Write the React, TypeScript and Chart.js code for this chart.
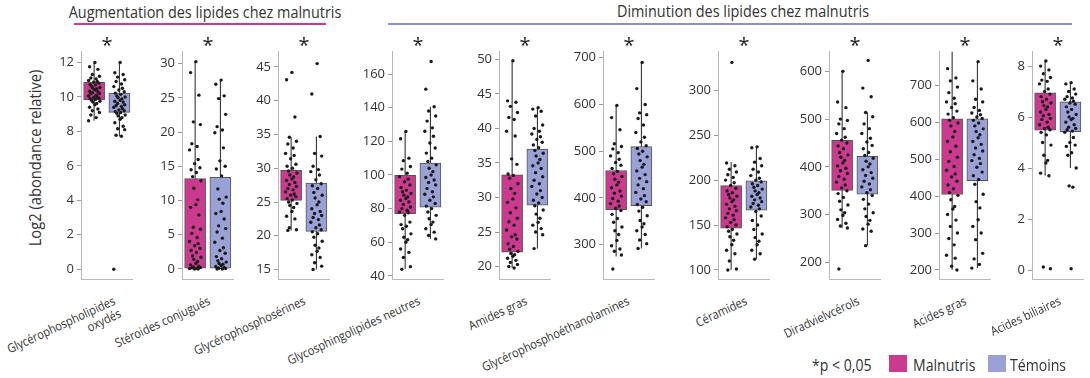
import React, { useEffect, useRef } from 'react';
import { Chart, registerables } from 'chart.js';
Chart.register(...registerables);

// ---------- DATA ----------
const CATEGORIES = [
  'Glycérophospholipides\noxydés',
  'Stéroides conjugués',
  'Glycérophosphosérines',
  'Glycosphingolipides neutres',
  'Amides gras',
  'Glycérophosphoéthanolamines',
  'Céramides',
  'Diradvielvcérols',
  'Acides gras',
  'Acides biliaires',
];
const SERIES = ['Malnutris', 'Témoins'];
const GROUP_TITLES = ['Augmentation des lipides chez malnutris', 'Diminution des lipides chez malnutris'];
const Y_TITLE = 'Log2 (abondance relative)';
const SIGNIF = ['*', '*', '*', '*', '*', '*', '*', '*', '*', '*'];
const SIGNIF_NOTE = '*p < 0,05';

const Y_MIN = [-0.58, -1.5, 13.57, 38.05, 18.17, 226.3, 89.7, 164.7, 175, -0.36];
const Y_MAX = [12.62, 31.74, 47.25, 173.2, 51.1, 712.7, 342.8, 641, 790.6, 8.56];
const Y_TICKS = [
  [0, 2, 4, 6, 8, 10, 12],
  [0, 5, 10, 15, 20, 25, 30],
  [15, 20, 25, 30, 35, 40, 45],
  [40, 60, 80, 100, 120, 140, 160],
  [20, 25, 30, 35, 40, 45, 50],
  [300, 400, 500, 600, 700],
  [100, 150, 200, 250, 300],
  [200, 300, 400, 500, 600],
  [200, 300, 400, 500, 600, 700],
  [0, 2, 4, 6, 8],
];

// box (Q1..Q3) and whisker ends
const MAL_Q1 = [9.83, 0.1, 25.24, 77, 22.1, 375.2, 146.6, 350.7, 404.3, 5.49];
const MAL_Q3 = [10.85, 13.2, 29.7, 99.8, 33.3, 458.8, 193.8, 455.5, 609, 6.95];
const TEM_Q1 = [9.1, 0.1, 20.63, 80.9, 28.9, 383.6, 166.5, 343, 442, 5.43];
const TEM_Q3 = [10.23, 13.4, 27.8, 107.1, 37.0, 509.8, 199.3, 422, 609, 6.6];
const MAL_LOW = [8.62, 0, 20.8, 44, 19.8, 275, 100, 272, 200, 3.7];
const MAL_HIGH = [12.0, 30.3, 34.6, 125.8, 49.8, 598, 220, 600, 800, 8.2];
const TEM_LOW = [7.72, 0, 15.0, 62, 22.6, 292, 112, 235, 205, 4.0];
const TEM_HIGH = [12.0, 27.6, 34.7, 140.5, 43.0, 690, 237, 514, 764, 7.35];

// individual points
const MAL_POINTS = [
  [12.0, 11.75, 11.6, 11.3, 11.2, 11.1, 11.05, 10.95, 10.9, 10.86, 10.8, 10.72, 10.7, 10.62, 10.55, 10.5, 10.46, 10.4, 10.33, 10.3, 10.25, 10.2, 10.18, 10.1, 10.05, 10.0, 9.97, 9.92, 9.9, 9.85, 9.8, 9.75, 9.7, 9.62, 9.55, 9.4, 9.3, 9.2, 9.1, 8.95, 8.8, 8.62],
  [30.3, 28.7, 25.4, 21.5, 21.1, 18.3, 17.9, 17.4, 16.0, 15.4, 14.8, 14.5, 14.1, 13.5, 12.9, 11.8, 10.1, 9.4, 9.0, 7.9, 6.1, 5.8, 5.2, 4.6, 4.0, 3.7, 3.4, 3.0, 2.7, 2.4, 1.9, 1.7, 1.4, 1.1, 0.8, 0.6, 0.4, 0.3, 0.2, 0.15, 0.1, 0.05, 0.0, 0.0],
  [44.2, 43.1, 37.6, 34.6, 34.0, 33.6, 33.0, 32.2, 31.9, 31.4, 30.6, 30.3, 30.0, 29.6, 29.3, 29.0, 28.7, 28.4, 28.2, 27.9, 27.6, 27.3, 27.0, 26.8, 26.5, 26.2, 26.0, 25.8, 25.5, 25.3, 25.0, 24.8, 24.5, 24.2, 23.6, 22.9, 22.5, 21.2, 20.9, 20.8],
  [125.8, 121.5, 110, 108.5, 105, 103.5, 101, 99, 97.5, 96, 94, 92.5, 91, 90, 89, 88, 87, 86, 85, 84, 82.5, 81, 80, 79, 78, 77.5, 76, 72, 70.5, 69.5, 68, 65, 63, 61.5, 60, 56, 54, 51, 45.5, 44],
  [49.8, 44.0, 43.8, 43.2, 42.3, 41.6, 41.3, 39.6, 38.9, 35.6, 34.8, 33.4, 33.2, 32.8, 32.0, 31.3, 30.6, 29.8, 29.3, 28.5, 27.8, 27.0, 26.5, 26.0, 25.3, 24.6, 24.3, 24.0, 23.3, 22.9, 22.5, 22.2, 21.9, 21.7, 21.5, 21.2, 20.9, 20.6, 20.3, 20.0, 19.8],
  [598, 572, 546, 516, 510, 505, 497, 490, 483, 476, 470, 463, 457, 452, 446, 440, 434, 428, 422, 415, 410, 404, 399, 393, 388, 383, 378, 373, 365, 356, 348, 338, 330, 322, 309, 298, 291, 286, 278, 248],
  [331, 219, 216, 212, 209, 206, 203, 200, 197, 194, 191, 188, 186, 184, 182, 180, 178, 176, 173, 171, 168, 166, 163, 161, 158, 156, 153, 150, 148, 145, 143, 140, 137, 133, 128, 122, 118, 110, 101, 100],
  [600, 536, 524, 500, 497, 490, 480, 470, 462, 456, 450, 444, 438, 430, 425, 420, 414, 408, 402, 397, 392, 386, 380, 374, 368, 362, 356, 350, 344, 336, 328, 320, 310, 304, 298, 290, 282, 276, 272, 186],
  [800, 745, 720, 712, 695, 680, 665, 655, 650, 640, 630, 622, 612, 605, 598, 590, 575, 560, 548, 535, 520, 505, 494, 480, 470, 460, 452, 440, 430, 420, 410, 402, 390, 372, 365, 350, 335, 318, 300, 285, 268, 240, 232, 210, 200],
  [8.2, 8.0, 7.85, 7.7, 7.55, 7.45, 7.4, 7.3, 7.1, 7.0, 6.9, 6.8, 6.7, 6.6, 6.55, 6.45, 6.4, 6.3, 6.2, 6.1, 6.05, 5.95, 5.9, 5.8, 5.7, 5.6, 5.55, 5.5, 5.4, 5.3, 5.0, 4.9, 4.5, 4.3, 4.2, 3.8, 3.7, 0.12, 0.05],
];
const TEM_POINTS = [
  [12.0, 11.4, 11.3, 11.15, 11.0, 10.9, 10.75, 10.6, 10.5, 10.4, 10.3, 10.22, 10.15, 10.05, 10.0, 9.95, 9.88, 9.8, 9.75, 9.7, 9.62, 9.55, 9.5, 9.45, 9.4, 9.32, 9.25, 9.2, 9.15, 9.1, 9.05, 8.95, 8.9, 8.8, 8.7, 8.5, 8.3, 8.15, 8.1, 7.78, 7.72, 0.0],
  [27.6, 27.0, 25.3, 24.9, 22.6, 20.8, 20.3, 19.9, 17.7, 15.8, 15.0, 14.6, 13.6, 11.7, 10.5, 10.2, 9.6, 8.4, 8.1, 7.3, 6.3, 5.9, 5.4, 4.5, 3.9, 3.1, 2.7, 2.3, 1.8, 1.5, 1.2, 1.0, 0.8, 0.7, 0.5, 0.35, 0.2, 0.1, 0.05, 0.0, 0.0],
  [45.5, 41.0, 34.7, 32.2, 31.8, 30.3, 29.8, 29.5, 29.0, 28.3, 27.7, 27.4, 27.0, 26.4, 26.0, 25.6, 25.0, 24.6, 24.0, 23.6, 23.3, 23.0, 22.7, 22.4, 22.0, 21.6, 21.2, 20.9, 20.6, 20.3, 19.8, 19.2, 18.6, 18.2, 17.7, 17.2, 16.8, 16.0, 15.5, 15.0],
  [167.4, 151, 140.5, 138, 135, 132, 128, 126, 123, 119, 116, 113, 110, 108, 106, 104, 102, 100, 98.5, 97, 95.5, 94, 92, 90, 88.5, 87, 85, 83, 81.5, 80, 78, 76, 74, 72, 70.5, 68, 66, 64, 62],
  [43.0, 42.8, 42.5, 41.8, 40.5, 40.0, 39.6, 39.2, 38.8, 38.4, 38.0, 37.6, 37.2, 36.8, 36.4, 36.0, 35.5, 35.0, 34.6, 34.2, 33.6, 33.0, 32.5, 32.0, 31.6, 31.0, 30.5, 30.0, 29.6, 29.2, 28.8, 28.2, 27.6, 27.0, 26.4, 26.0, 25.5, 25.0, 24.6, 22.6],
  [690, 634, 600, 582, 578, 570, 556, 540, 530, 520, 512, 506, 500, 494, 488, 480, 472, 466, 458, 450, 442, 435, 428, 420, 412, 405, 398, 392, 386, 380, 372, 362, 352, 345, 338, 330, 322, 310, 302, 292],
  [237, 236, 224, 220, 216, 212, 209, 205, 202, 200, 198, 196, 194, 192, 190, 188, 186, 184, 182, 180, 178, 176, 174, 172, 170, 168, 165, 160, 155, 150, 145, 140, 136, 132, 128, 122, 118, 112],
  [623, 565, 547, 514, 505, 490, 480, 470, 460, 452, 445, 438, 430, 424, 418, 412, 406, 400, 394, 388, 382, 376, 370, 364, 358, 352, 346, 340, 332, 322, 312, 304, 296, 288, 280, 270, 265, 235],
  [764, 712, 690, 662, 655, 640, 632, 625, 620, 614, 610, 605, 598, 590, 582, 575, 566, 558, 548, 540, 530, 522, 512, 502, 496, 488, 478, 465, 455, 445, 432, 405, 385, 368, 336, 318, 300, 282, 245, 230, 215, 205],
  [7.35, 7.3, 7.1, 7.0, 6.9, 6.8, 6.75, 6.7, 6.62, 6.55, 6.5, 6.4, 6.3, 6.2, 6.1, 6.0, 5.95, 5.9, 5.8, 5.7, 5.6, 5.55, 5.5, 5.45, 5.4, 5.2, 5.0, 4.9, 4.85, 4.6, 4.5, 4.0, 3.3, 3.25, 0.05],
];

// ---------- LAYOUT / STYLE ----------
const FONT = "'Open Sans', 'Noto Sans', sans-serif";
const MAL_COLOR = '#cb3a8f';
const TEM_COLOR = '#9aa1d6';
const BOX_BORDER = '#555555';
const AXIS_COLOR = '#b8b8b8';
const TEXT_COLOR = '#333333';
const PANEL_AXIS_X = [81, 182, 278, 392, 499, 603, 718, 829, 939, 1032];
const LABEL_DX = [5, -2, -2, -2, -2, -3, -1, 0, -2, -1];
const PLOT_W = 51;
const AREA_TOP = 51;
const AREA_H = 229;
const Y_AXIS_W = 40;
const PAD = 10;
const X_MIN = -0.02;
const X_MAX = 2;
const X_MAL = 0.5;
const X_TEM = 1.5;
const JITTER = [0.03, -0.18, 0.15, -0.07, 0.21, -0.13, 0.08, -0.22, 0.12, -0.02, 0.19, -0.16, 0.05, -0.1, 0.23, -0.05, 0.1];
const SQUEEZE = 0.88;
const TITLE_SQUEEZE = 0.93;

function Panel({ i }: { i: number }) {
  const ref = useRef<HTMLCanvasElement>(null);
  useEffect(() => {
    const pts = (vals: number[], cx: number) =>
      vals.map((v, k) => ({ x: cx + JITTER[k % JITTER.length], y: v }));
    const chart = new Chart(ref.current as HTMLCanvasElement, {
      type: 'bar',
      data: {
        datasets: [
          { type: 'scatter', data: pts(MAL_POINTS[i], X_MAL), pointRadius: 1.7, pointBackgroundColor: '#1a1a1a', pointBorderWidth: 0, order: 0 } as any,
          { type: 'scatter', data: pts(TEM_POINTS[i], X_TEM), pointRadius: 1.7, pointBackgroundColor: '#1a1a1a', pointBorderWidth: 0, order: 0 } as any,
          { type: 'bar', label: SERIES[0], data: [{ x: X_MAL, y: [MAL_Q1[i], MAL_Q3[i]] }], backgroundColor: MAL_COLOR, borderColor: BOX_BORDER, borderWidth: 1, borderSkipped: false, barThickness: 21, grouped: false, order: 1 } as any,
          { type: 'bar', label: SERIES[1], data: [{ x: X_TEM, y: [TEM_Q1[i], TEM_Q3[i]] }], backgroundColor: TEM_COLOR, borderColor: BOX_BORDER, borderWidth: 1, borderSkipped: false, barThickness: 21, grouped: false, order: 1 } as any,
          { type: 'line', data: [{ x: X_MAL, y: MAL_LOW[i] }, { x: X_MAL, y: MAL_HIGH[i] }], borderColor: '#222', borderWidth: 1, pointRadius: 0, order: 2 } as any,
          { type: 'line', data: [{ x: X_TEM, y: TEM_LOW[i] }, { x: X_TEM, y: TEM_HIGH[i] }], borderColor: '#222', borderWidth: 1, pointRadius: 0, order: 2 } as any,
        ],
      },
      options: {
        animation: false,
        responsive: false,
        events: [],
        layout: { padding: { left: 0, right: 4, top: PAD, bottom: PAD } },
        plugins: { legend: { display: false }, tooltip: { enabled: false } },
        scales: {
          x: {
            type: 'linear',
            min: X_MIN,
            max: X_MAX,
            offset: false,
            grid: { display: false },
            ticks: { display: false },
            border: { display: true, color: AXIS_COLOR, width: 1 },
            afterFit: (s: any) => { s.height = 0; },
          },
          y: {
            type: 'linear',
            min: Y_MIN[i],
            max: Y_MAX[i],
            afterBuildTicks: (s: any) => { s.ticks = Y_TICKS[i].map((v) => ({ value: v })); },
            afterFit: (s: any) => { s.width = Y_AXIS_W; },
            grid: { display: true, drawOnChartArea: false, drawTicks: true, tickLength: 4, color: '#9a9a9a' },
            border: { display: true, color: AXIS_COLOR, width: 1 },
            ticks: { font: { family: FONT, size: 13 }, color: TEXT_COLOR, padding: 3 },
          },
        } as any,
      },
    });
    return () => chart.destroy();
  }, [i]);
  return (
    <canvas
      ref={ref}
      width={Y_AXIS_W + PLOT_W + 4}
      height={AREA_H + 2 * PAD}
      style={{ position: 'absolute', left: PANEL_AXIS_X[i] - Y_AXIS_W, top: AREA_TOP - PAD }}
    />
  );
}

const txt = (extra: React.CSSProperties): React.CSSProperties => ({
  position: 'absolute',
  whiteSpace: 'pre',
  color: TEXT_COLOR,
  fontFamily: FONT,
  ...extra,
});

export default function App() {
  return (
    <div style={{ position: 'absolute', left: 0, top: 0, width: 1090, height: 378, background: '#fff', overflow: 'hidden', fontFamily: FONT }}>
      {/* group titles */}
      <div style={txt({ left: 205, top: 4.5, fontSize: 15.5, lineHeight: '15.5px', transform: `translateX(-50%) scaleX(${TITLE_SQUEEZE})` })}>{GROUP_TITLES[0]}</div>
      <div style={{ position: 'absolute', left: 74, top: 23, width: 252, height: 2, background: MAL_COLOR }} />
      <div style={txt({ left: 743, top: 4, fontSize: 15.5, lineHeight: '15.5px', transform: `translateX(-50%) scaleX(${TITLE_SQUEEZE})` })}>{GROUP_TITLES[1]}</div>
      <div style={{ position: 'absolute', left: 388, top: 23, width: 684, height: 2, background: '#8b8fcc' }} />

      {/* y title */}
      <div style={txt({ left: 35 - 130, top: 158 - 10, width: 260, height: 20, lineHeight: '20px', fontSize: 15.5, textAlign: 'center', transform: 'rotate(-90deg) scaleX(0.95)', transformOrigin: '50% 50%' })}>{Y_TITLE}</div>

      {CATEGORIES.map((_, i) => <Panel key={i} i={i} />)}

      {/* significance marks */}
      {SIGNIF.map((s, i) => (
        <div key={'s' + i} style={txt({ left: PANEL_AXIS_X[i] + 26, top: 35, fontSize: 20, lineHeight: '20px', transform: 'translateX(-50%)', color: '#222' })}>{s}</div>
      ))}

      {/* category labels */}
      {CATEGORIES.map((c, i) => (
        <div key={'c' + i} style={txt({ right: 1090 - (PANEL_AXIS_X[i] + 26 + LABEL_DX[i]), top: 294, fontSize: 12.5, lineHeight: '14px', textAlign: 'right', transformOrigin: '100% 0%', transform: `rotate(-25deg) scaleX(${SQUEEZE})` })}>{c}</div>
      ))}

      {/* legend */}
      <div style={txt({ left: 812, top: 357, fontSize: 16, lineHeight: '16px', transformOrigin: '0 0', transform: `scaleX(${SQUEEZE})` })}>{SIGNIF_NOTE}</div>
      <div style={{ position: 'absolute', left: 889, top: 355, width: 18, height: 17, background: MAL_COLOR }} />
      <div style={txt({ left: 913, top: 357, fontSize: 16, lineHeight: '16px', transformOrigin: '0 0', transform: `scaleX(${SQUEEZE})` })}>{SERIES[0]}</div>
      <div style={{ position: 'absolute', left: 988, top: 355, width: 18, height: 17, background: TEM_COLOR }} />
      <div style={txt({ left: 1010, top: 357, fontSize: 16, lineHeight: '16px', transformOrigin: '0 0', transform: `scaleX(${SQUEEZE})` })}>{SERIES[1]}</div>
    </div>
  );
}
